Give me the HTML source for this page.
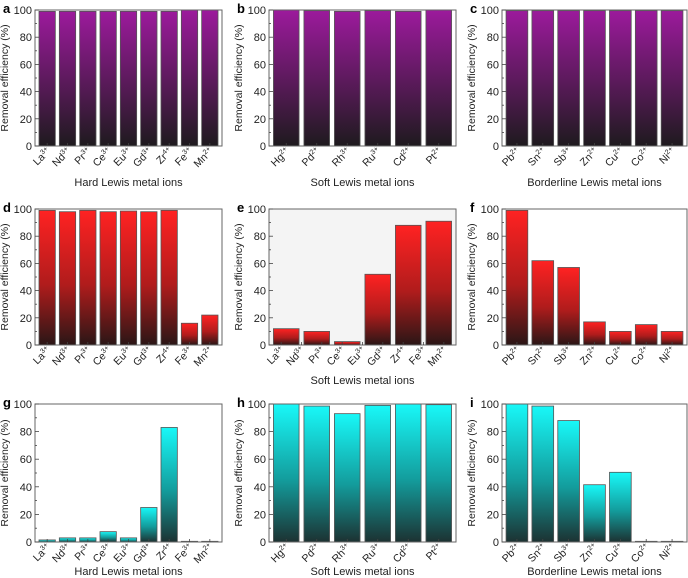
<!DOCTYPE html>
<html><head><meta charset="utf-8"><style>
body{margin:0;background:#fff;}
svg{display:block;font-family:"Liberation Sans",sans-serif;}
</style></head><body>
<svg id="fig" width="688" height="578">
<defs>
<linearGradient id="gp" x1="0" y1="0" x2="0" y2="1"><stop offset="0" stop-color="#9c1a9c"/><stop offset="0.5" stop-color="#5e1a5e"/><stop offset="1" stop-color="#1e1a1e"/></linearGradient>
<linearGradient id="gr" x1="0" y1="0" x2="0" y2="1"><stop offset="0" stop-color="#ff2222"/><stop offset="0.55" stop-color="#b01c1c"/><stop offset="1" stop-color="#2a1616"/></linearGradient>
<linearGradient id="gc" x1="0" y1="0" x2="0" y2="1"><stop offset="0" stop-color="#18f8f8"/><stop offset="0.55" stop-color="#139c9c"/><stop offset="1" stop-color="#1c3232"/></linearGradient>
</defs>
</svg>
<script>
const hardLabels=[["La","3+"],["Nd","3+"],["Pr","3+"],["Ce","3+"],["Eu","3+"],["Gd","3+"],["Zr","4+"],["Fe","3+"],["Mn","2+"]];
const softLabels=[["Hg","2+"],["Pd","2+"],["Rh","3+"],["Ru","3+"],["Cd","2+"],["Pt","2+"]];
const bordLabels=[["Pb","2+"],["Sn","2+"],["Sb","3+"],["Zn","2+"],["Cu","2+"],["Co","2+"],["Ni","2+"]];
const valsA=[99,99,99,99,99,99,99,100,100];
const valsB=[100,99.5,99,99.5,99,100];
const valsC=[99.5,99.5,99.5,99.5,99.5,99.5,99.5];
const valsD=[99,98,99,98,98.5,98,99,16,22];
const valsE=[12,10,2.5,52,88,91];
const valsF=[99,62,57,17,10,15,10];
const valsG=[1.5,3,3,7.5,3,25,83,0.5,0.5];
const valsH=[100,98.5,93,99,100,99.5];
const valsI=[100,98.5,88,41.5,50.5,0.5,0.5];
const yTicks=[0,20,40,60,80,100];

const NS="http://www.w3.org/2000/svg";
const svg=document.getElementById('fig');
function mk(tag,attrs,parent){const e=document.createElementNS(NS,tag);for(const k in attrs)e.setAttribute(k,attrs[k]);(parent||svg).appendChild(e);return e;}
const cols=[35,269,502], widths=[187,187,185], rows=[[10,146],[209,345],[404,542]], titleY=[186,384,575];
const panels=[
 ['a',valsA,hardLabels,'Hard Lewis metal ions','gp',0,0,false],
 ['b',valsB,softLabels,'Soft Lewis metal ions','gp',1,0,false],
 ['c',valsC,bordLabels,'Borderline Lewis metal ions','gp',2,0,false],
 ['d',valsD,hardLabels,'','gr',0,1,false],
 ['e',valsE,hardLabels,'Soft Lewis metal ions','gr',1,1,true],
 ['f',valsF,bordLabels,'','gr',2,1,false],
 ['g',valsG,hardLabels,'Hard Lewis metal ions','gc',0,2,false],
 ['h',valsH,softLabels,'Soft Lewis metal ions','gc',1,2,false],
 ['i',valsI,bordLabels,'Borderline Lewis metal ions','gc',2,2,false]];
panels.forEach(p=>{
 const [letter,vals,labels,title,grad,ci,ri,grayBg]=p;
 const x0=cols[ci],w=widths[ci],y0=rows[ri][0],y1=rows[ri][1],h=y1-y0;
 const g=mk('g',{});
 
 
 const ys=v=>y1-v/100*h;
 if(grayBg){const bg=mk('rect',{x:x0,y:y0,width:w,height:h,fill:'#f4f4f4'},g);}
 const pad=2, n=vals.length, slot=(w-2*pad)/n, gap=Math.max(4,slot*0.16);
 vals.forEach((v,i)=>{
  const bx=x0+pad+i*slot+gap/2, by=ys(v);
  const r=mk('rect',{x:bx,y:by,width:slot-gap,height:Math.max(y1-by,0.5),fill:'url(#'+grad+')',stroke:'#555','stroke-width':0.8},g);
  
  
 });
 const fr=mk('rect',{x:x0,y:y0,width:w,height:h,fill:'none',stroke:'#666','stroke-width':1},g);
 
 for(let v=0;v<=100;v+=10){const yy=ys(v);mk('line',{x1:x0,x2:x0+(v%20===0?4:2),y1:yy,y2:yy,stroke:'#444','stroke-width':0.8},g);}
 yTicks.forEach(v=>{const t=mk('text',{x:x0-3,y:ys(v)+4,'text-anchor':'end','font-size':11,fill:'#222'},g);t.textContent=v;});
 const yt=mk('text',{x:0,y:0,transform:`translate(${x0-27},${(y0+y1)/2}) rotate(-90)`,'text-anchor':'middle','font-size':10.5,fill:'#222'},g);
 yt.textContent='Removal efficiency (%)';
 const L=mk('text',{x:x0-32,y:y0+3,'font-size':13,'font-weight':'bold',fill:'#000'},g);
 L.textContent=letter;
 const m=labels.length, ls=(w-2*pad)/m;
 labels.forEach((lb,i)=>{
  const cx=x0+pad+(i+0.5)*ls;
  mk('line',{x1:cx,x2:cx,y1:y1,y2:y1-3,stroke:'#444','stroke-width':0.8},g);
  const t=mk('text',{transform:`translate(${cx+4},${y1+6}) rotate(-45)`,'text-anchor':'end','font-size':10.5,fill:'#222'},g);
  
  t.appendChild(document.createTextNode(lb[0]));
  const s=mk('tspan',{'font-size':7,dy:-4},t);s.textContent=lb[1];
 });
 if(title){const xt=mk('text',{x:x0+w/2,y:titleY[ri],'text-anchor':'middle','font-size':11,fill:'#222'},g);xt.textContent=title;}
});
</script>
</body></html>
